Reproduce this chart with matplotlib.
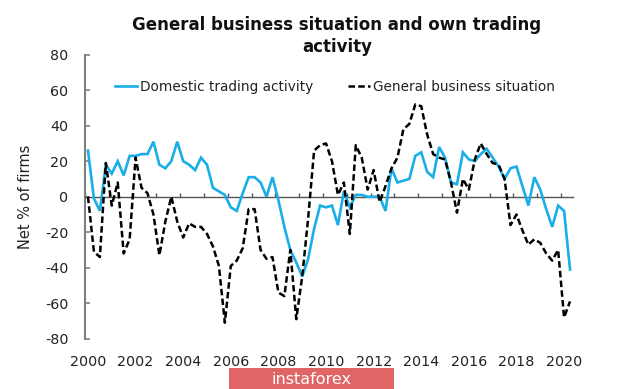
import matplotlib
matplotlib.use("Agg")
import matplotlib.pyplot as plt
from matplotlib.patches import Rectangle
import numpy as np

# Quarterly data, 2000 Q1 .. 2020 Q2
domestic = [26, -1, -8, 18, 13, 20, 12, 23, 23, 24, 24, 31, 18, 16, 20, 31,
            20, 18, 15, 22, 18, 5, 3, 1, -6, -8, 2, 11, 11, 8, 0, 11,
            -2, -17, -30, -37, -45, -35, -18, -5, -6, -5, -16, 3, -6, 1, 1, 0,
            0, 0, -8, 16, 8, 9, 10, 23, 25, 14, 11, 28, 22, 8, 7, 25,
            21, 20, 24, 27, 22, 17, 10, 16, 17, 6, -5, 11, 4, -7, -17, -5,
            -8, -41]
general = [0, -31, -34, 19, -5, 8, -32, -24, 22, 5, 2, -10, -33, -14, 0, -14,
           -23, -15, -17, -17, -21, -28, -39, -71, -39, -36, -29, -7, -7, -30, -35, -34,
           -54, -56, -30, -69, -45, -12, 26, 29, 30, 20, 1, 8, -21, 29, 22, 4,
           15, -3, 6, 16, 22, 38, 41, 52, 51, 35, 24, 22, 21, 8, -9, 10,
           4, 21, 30, 24, 19, 18, 10, -16, -10, -19, -27, -24, -26, -32, -36, -30,
           -68, -59]
year_labels = ["2000", "2002", "2004", "2006", "2008", "2010",
               "2012", "2014", "2016", "2018", "2020"]
y_ticks = [-80, -60, -40, -20, 0, 20, 40, 60, 80]

n = len(domestic)
x = np.arange(n)

fig = plt.figure(figsize=(6.2, 3.89), dpi=100)
fig.patch.set_facecolor("white")
ax = fig.add_axes([85 / 620, 1 - 338.7 / 389, 488 / 620, 284 / 389])

ax.plot(x, domestic, color="#1aaee8", lw=1.9, solid_joinstyle="miter",
        label="Domestic trading activity", zorder=3)
ax.plot(x, general, color="black", lw=1.8, ls=(0, (2.6, 1.3)),
        label="General business situation", zorder=4)

ax.set_xlim(-0.5, 81.5)
ax.set_ylim(-80, 80)

for s in ["top", "right"]:
    ax.spines[s].set_visible(False)
ax.spines["left"].set_color("#7f7f7f")
ax.spines["left"].set_linewidth(1.5)
ax.spines["bottom"].set_position(("data", 0))
ax.spines["bottom"].set_color("#555555")
ax.spines["bottom"].set_linewidth(1.0)

ax.set_xticks(np.arange(-0.5, n, 4))
ax.tick_params(axis="x", direction="in", length=3, width=1, color="#555555",
               labelbottom=False)
ax.set_yticks(y_ticks)
ax.set_yticklabels([str(v) for v in y_ticks])
ax.tick_params(axis="y", direction="in", length=3.5, width=1.2, color="#7f7f7f",
               labelsize=10.3, pad=12, labelcolor="#222222")

sec = ax.secondary_xaxis(0)
sec.set_xticks(np.arange(0, n, 8))
sec.set_xticklabels(year_labels)
sec.tick_params(length=0, labelsize=10.3, pad=12, labelcolor="#222222")
sec.spines["bottom"].set_visible(False)

ax.set_ylabel("Net % of firms", fontsize=10.5, color="#222222")
ax.yaxis.set_label_coords(-0.107, 0.5)

fig.text(337 / 620, 1 - 36 / 389,
         "General business situation and own trading\nactivity",
         ha="center", va="center", fontsize=12, fontweight="bold",
         linespacing=1.3, color="#111111")

leg = ax.legend(loc="center", bbox_to_anchor=(335 / 620, 1 - 87 / 389),
                bbox_transform=fig.transFigure, ncol=2, frameon=False,
                fontsize=9.8, handlelength=1.6, handletextpad=0.2,
                columnspacing=2.6, borderpad=0)
for t in leg.get_texts():
    t.set_color("#222222")

fig.patches.append(Rectangle((229 / 620, 0), 165 / 620, 21 / 389,
                             transform=fig.transFigure, facecolor="#e06666",
                             edgecolor="none", zorder=10))
fig.text(312 / 620, 1 - 379 / 389, "instaforex", ha="center", va="center",
         color="white", fontsize=11.5, zorder=11)

fig.savefig("out.png", dpi=100)
